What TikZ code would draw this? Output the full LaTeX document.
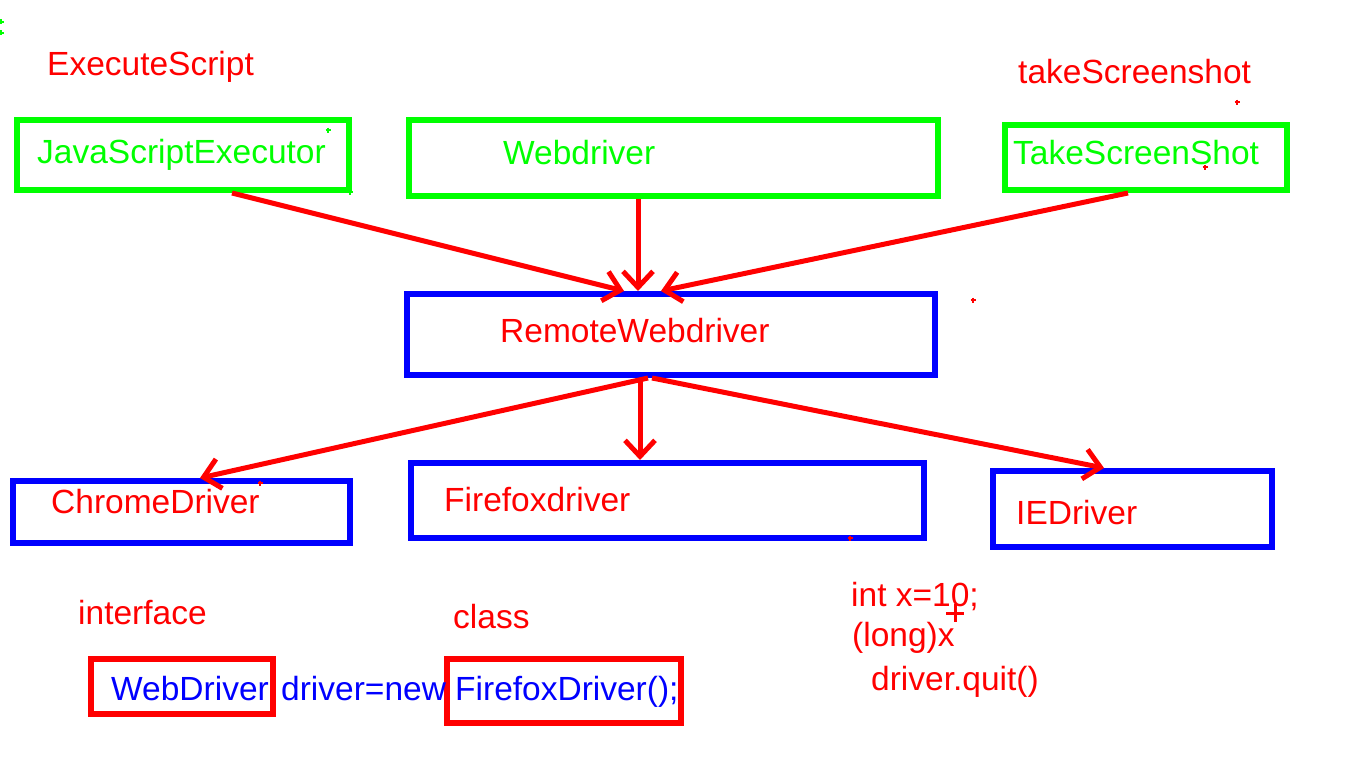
\documentclass[tikz,border=0pt]{standalone}
\usepackage{fontspec}
\setmainfont{Liberation Sans}
\usetikzlibrary{arrows.meta}
\definecolor{pred}{HTML}{FF0000}
\definecolor{pgreen}{HTML}{00FF00}
\definecolor{pblue}{HTML}{0000FF}
\tikzset{
  box/.style={draw, line width=6pt, inner sep=0pt, rectangle},
  gbox/.style={box, draw=pgreen},
  bbox/.style={box, draw=pblue},
  rbox/.style={box, draw=pred},
  txt/.style={anchor=base west, inner sep=0pt, font=\fontsize{33.5}{40}\selectfont},
  arr/.style={draw=pred, line width=5pt, -{Straight Barb[length=16pt,width=30pt]}},
  speck/.style={line width=1.5pt},
}
\begin{document}
\begin{tikzpicture}[x=1pt,y=-1pt]
\useasboundingbox (0,0) rectangle (1360,768);
\fill[white] (0,0) rectangle (1360,768);
% boxes
\node[gbox, minimum width=332pt, minimum height=70pt] (jse) at (183,155) {};
\node[gbox, minimum width=529pt, minimum height=76pt] (wd) at (673.5,158) {};
\node[gbox, minimum width=282pt, minimum height=65pt] (tss) at (1146,157.5) {};
\node[bbox, minimum width=528pt, minimum height=81pt] (rwd) at (671,334.5) {};
\node[bbox, minimum width=337pt, minimum height=62pt] (chr) at (181.5,512) {};
\node[bbox, minimum width=513pt, minimum height=75pt] (ffx) at (667.5,500.5) {};
\node[bbox, minimum width=279pt, minimum height=76pt] (ied) at (1132.5,509) {};
\node[rbox, minimum width=182pt, minimum height=55pt] (iwd) at (182,686.5) {};
\node[rbox, minimum width=234pt, minimum height=64pt] (cff) at (564,691) {};
% texts
\node[txt, text=pred] (t1) at (47,75) {ExecuteScript};
\node[txt, text=pgreen] (t2) at (37,163) {JavaScriptExecutor};
\node[txt, text=pgreen] (t3) at (503,164) {Webdriver};
\node[txt, text=pred] (t4) at (1018,83) {takeScreenshot};
\node[txt, text=pgreen] (t5) at (1013,164) {TakeScreenShot};
\node[txt, text=pred] (t6) at (500,342) {RemoteWebdriver};
\node[txt, text=pred] (t7) at (51,513) {ChromeDriver};
\node[txt, text=pred] (t8) at (444,511) {Firefoxdriver};
\node[txt, text=pred] (t9) at (1016,524) {IEDriver};
\node[txt, text=pred] (t10) at (78,624) {interface};
\node[txt, text=pred] (t11) at (453,628) {class};
\node[txt, text=pblue] (t12) at (111,700) {WebDriver};
\node[txt, text=pblue] (t13) at (281,700) {driver=new};
\node[txt, text=pblue] (t14) at (455,700) {FirefoxDriver();};
\node[txt, text=pred] (t15) at (851,606) {int x=10;};
\node[txt, text=pred] (t16) at (852,646) {(long)x};
\node[txt, text=pred] (t17) at (871,690) {driver.quit()};
% connectors
\draw[arr] ([xshift=49pt]jse.south) -- ([xshift=-47pt]rwd.north);
\draw[arr] ([xshift=-35.5pt]wd.south) -- ([xshift=-33pt]rwd.north);
\draw[arr] ([xshift=-18pt]tss.south) -- ([xshift=-10pt]rwd.north);
\draw[arr] ([xshift=-23pt]rwd.south) -- ([xshift=18.5pt]chr.north);
\draw[arr] ([xshift=-31pt]rwd.south) -- ([xshift=-27.5pt]ffx.north);
\draw[arr] ([xshift=-19pt]rwd.south) -- ([xshift=-28.5pt]ied.north);
% specks
\foreach \px/\py in {1237/102, 973/300, 1205/167, 260/483, 850/538}
  \draw[speck, pred] (\px-2.5,\py) -- (\px+2.5,\py) (\px,\py-2.5) -- (\px,\py+2.5);
\foreach \px/\py in {328/130, 350/192, 1/22, 1/33}
  \draw[speck, pgreen] (\px-2.5,\py) -- (\px+2.5,\py) (\px,\py-2.5) -- (\px,\py+2.5);
\draw[line width=3pt, pred] (946,613) -- (964,613) (955,604) -- (955,622);
\end{tikzpicture}
\end{document}
